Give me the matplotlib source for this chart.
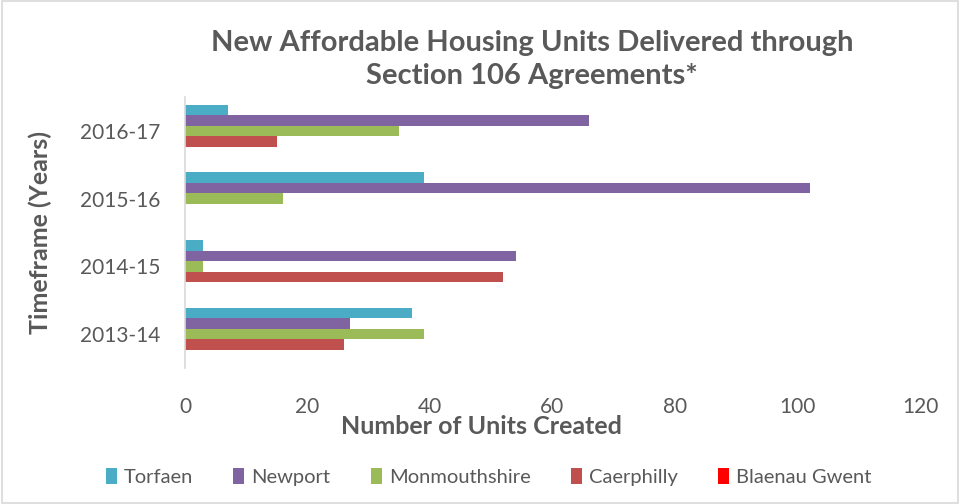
import matplotlib
matplotlib.use('Agg')
import matplotlib.pyplot as plt
import numpy as np

plt.rcParams['font.family'] = ['Lato', 'DejaVu Sans']

years = ['2013-14', '2014-15', '2015-16', '2016-17']
series = ['Torfaen', 'Newport', 'Monmouthshire', 'Caerphilly', 'Blaenau Gwent']
torfaen = [37, 3, 39, 7]
newport = [27, 54, 102, 66]
monmouthshire = [39, 3, 16, 35]
caerphilly = [26, 52, 0, 15]
blaenau_gwent = [0, 0, 0, 0]
values = [torfaen, newport, monmouthshire, caerphilly, blaenau_gwent]
colors = ['#4BACC6', '#8064A2', '#9BBB59', '#C0504D', '#FF0000']
xticks = [0, 20, 40, 60, 80, 100, 120]

fig = plt.figure(figsize=(9.6, 5.04), dpi=100)
ax = fig.add_axes([0.1927, 0.2698, 0.7656, 0.5377])

y = np.arange(len(years))
h = 0.155
# Torfaen on top, Blaenau Gwent at the bottom of each group
for i, (name, vals, c) in enumerate(zip(series, values, colors)):
    offset = (2 - i) * h
    ax.barh(y + offset, vals, height=h, color=c, label=name)

ax.set_xlim(0, 120)
ax.set_ylim(-0.5, len(years) - 0.5)
ax.set_xticks(xticks)
ax.set_yticks(y)
ax.set_yticklabels(years)
ax.tick_params(axis='both', length=0, labelsize=15, colors='#595959')
ax.tick_params(axis='x', pad=21)
ax.tick_params(axis='y', pad=18)

for s in ['top', 'right', 'bottom']:
    ax.spines[s].set_visible(False)
ax.spines['left'].set_color('#D9D9D9')
ax.spines['left'].set_linewidth(1.2)

ax.set_xlabel('Number of Units Created', fontsize=18, fontweight='bold',
              color='#595959')
ax.xaxis.set_label_coords(0.404, -0.175)
ax.set_ylabel('Timeframe (Years)', fontsize=18, fontweight='bold',
              color='#595959')
ax.yaxis.set_label_coords(-0.181, 0.5)

fig.text(0.554, 0.882, 'New Affordable Housing Units Delivered through\nSection 106 Agreements*',
         ha='center', va='center', fontsize=21, fontweight='bold', color='#595959',
         linespacing=1.3)

leg = fig.legend(loc='center', bbox_to_anchor=(0.509, 0.054), ncol=5, frameon=False,
                 fontsize=14.5, handlelength=0.55, handleheight=0.85, columnspacing=2.0,
                 handletextpad=0.35)
for t in leg.get_texts():
    t.set_color('#595959')

# light border around the whole chart
fig.patches.append(plt.Rectangle((0.002, 0.002), 0.996, 0.996, transform=fig.transFigure,
                                 fill=False, edgecolor='#D9D9D9', linewidth=1.2))

plt.savefig('out.png', dpi=100)
